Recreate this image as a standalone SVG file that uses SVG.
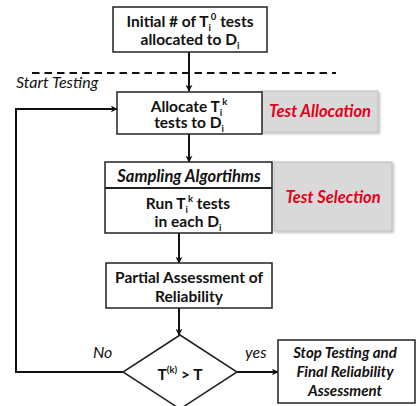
<svg xmlns="http://www.w3.org/2000/svg" width="417" height="406" viewBox="0 0 417 406">
  <defs>
    <marker id="arrow" viewBox="0 0 10 10" refX="9" refY="5" markerWidth="7" markerHeight="7" orient="auto" markerUnits="userSpaceOnUse">
      <path d="M0,0 L10,5 L0,10 L3,5 Z" fill="#111"/>
    </marker>
    <filter id="shadow" x="-10%" y="-10%" width="130%" height="130%">
      <feDropShadow dx="1.5" dy="1.5" stdDeviation="1" flood-color="#000" flood-opacity="0.25"/>
    </filter>
  </defs>
  <style>
    .box { fill: #fff; stroke: #222; stroke-width: 1.5; }
    .tag { fill: #d9d9d9; stroke: #bdbdbd; stroke-width: 1; }
    .lbl { font-family: Lato, "Open Sans", "Liberation Sans", sans-serif; font-weight: bold; font-size: 15.5px; fill: #111; text-anchor: middle; }
    .it { font-style: italic; }
    .red { fill: #e3001b; font-size: 16.5px; }
    .plain { font-family: Lato, "Open Sans", "Liberation Sans", sans-serif; font-style: italic; font-size: 16px; fill: #111; }
    .sm { font-size: 9.5px; }
    .wire { fill: none; stroke: #111; stroke-width: 2; }
  </style>

  <rect width="417" height="406" fill="#fff"/>

  <!-- start of testing marker -->
  <line x1="32" y1="73" x2="336" y2="73" stroke="#111" stroke-width="2" stroke-dasharray="7.5 5"/>
  <text class="plain" x="16" y="88">Start Testing</text>

  <g id="connectors">
    <line class="wire" x1="189" y1="52" x2="189" y2="91" marker-end="url(#arrow)"/>
    <line class="wire" x1="189" y1="134" x2="189" y2="162" marker-end="url(#arrow)"/>
    <line class="wire" x1="179" y1="233" x2="179" y2="263" marker-end="url(#arrow)"/>
    <line class="wire" x1="179" y1="308" x2="179" y2="335" marker-end="url(#arrow)"/>
    <line class="wire" x1="237" y1="372" x2="278" y2="372" marker-end="url(#arrow)"/>
    <polyline class="wire" points="123,372 16,372 16,109 117,109" marker-end="url(#arrow)"/>
    <text class="plain" x="93" y="358">No</text>
    <text class="plain" x="245" y="358">yes</text>
  </g>

  <g id="initial">
    <rect class="box" x="113" y="7" width="154" height="45"/>
    <text class="lbl" x="190" y="27">Initial # of T<tspan class="sm" dy="4">i</tspan><tspan class="sm" dy="-11">0</tspan><tspan dy="7"> tests</tspan></text>
    <text class="lbl" x="190" y="45">allocated to D<tspan class="sm" dy="4">i</tspan></text>
  </g>

  <g id="allocate">
    <rect class="tag" x="261" y="91" width="117" height="41" filter="url(#shadow)"/>
    <rect class="box" x="117" y="92" width="145" height="42"/>
    <text class="lbl" x="189" y="112">Allocate T<tspan class="sm" dy="4">i</tspan><tspan class="sm" dy="-11">k</tspan></text>
    <text class="lbl" x="189" y="128">tests to D<tspan class="sm" dy="4">i</tspan></text>
    <text class="lbl it red" x="320" y="117">Test Allocation</text>
  </g>

  <g id="selection">
    <rect class="tag" x="274" y="162" width="118" height="69" filter="url(#shadow)"/>
    <rect class="box" x="105" y="162" width="167" height="71"/>
    <line x1="105" y1="188" x2="272" y2="188" stroke="#222" stroke-width="2"/>
    <text class="lbl it" x="189" y="182" style="font-size:16.5px">Sampling Algortihms</text>
    <text class="lbl" x="188" y="209">Run T<tspan class="sm" dy="4">i</tspan><tspan class="sm" dy="-11">k</tspan><tspan dy="7"> tests</tspan></text>
    <text class="lbl" x="188" y="227">in each D<tspan class="sm" dy="4">i</tspan></text>
    <text class="lbl it red" x="333" y="203">Test Selection</text>
  </g>

  <g id="partial">
    <rect class="box" x="106" y="263" width="166" height="45"/>
    <text class="lbl" x="189" y="283">Partial Assessment of</text>
    <text class="lbl" x="189" y="302">Reliability</text>
  </g>

  <g id="decision">
    <polygon class="box" points="180,335 237,372 180,409 123,372"/>
    <text class="lbl" x="180" y="380">T<tspan class="sm" dy="-7">(k)</tspan><tspan dy="7"> &gt; T</tspan></text>
  </g>

  <g id="stop">
    <rect class="box" x="278" y="340" width="137" height="63"/>
    <text class="lbl it" x="345" y="358" style="font-size:15px">Stop Testing and</text>
    <text class="lbl it" x="345" y="377" style="font-size:15px">Final Reliability</text>
    <text class="lbl it" x="345" y="396" style="font-size:15px">Assessment</text>
  </g>
</svg>
